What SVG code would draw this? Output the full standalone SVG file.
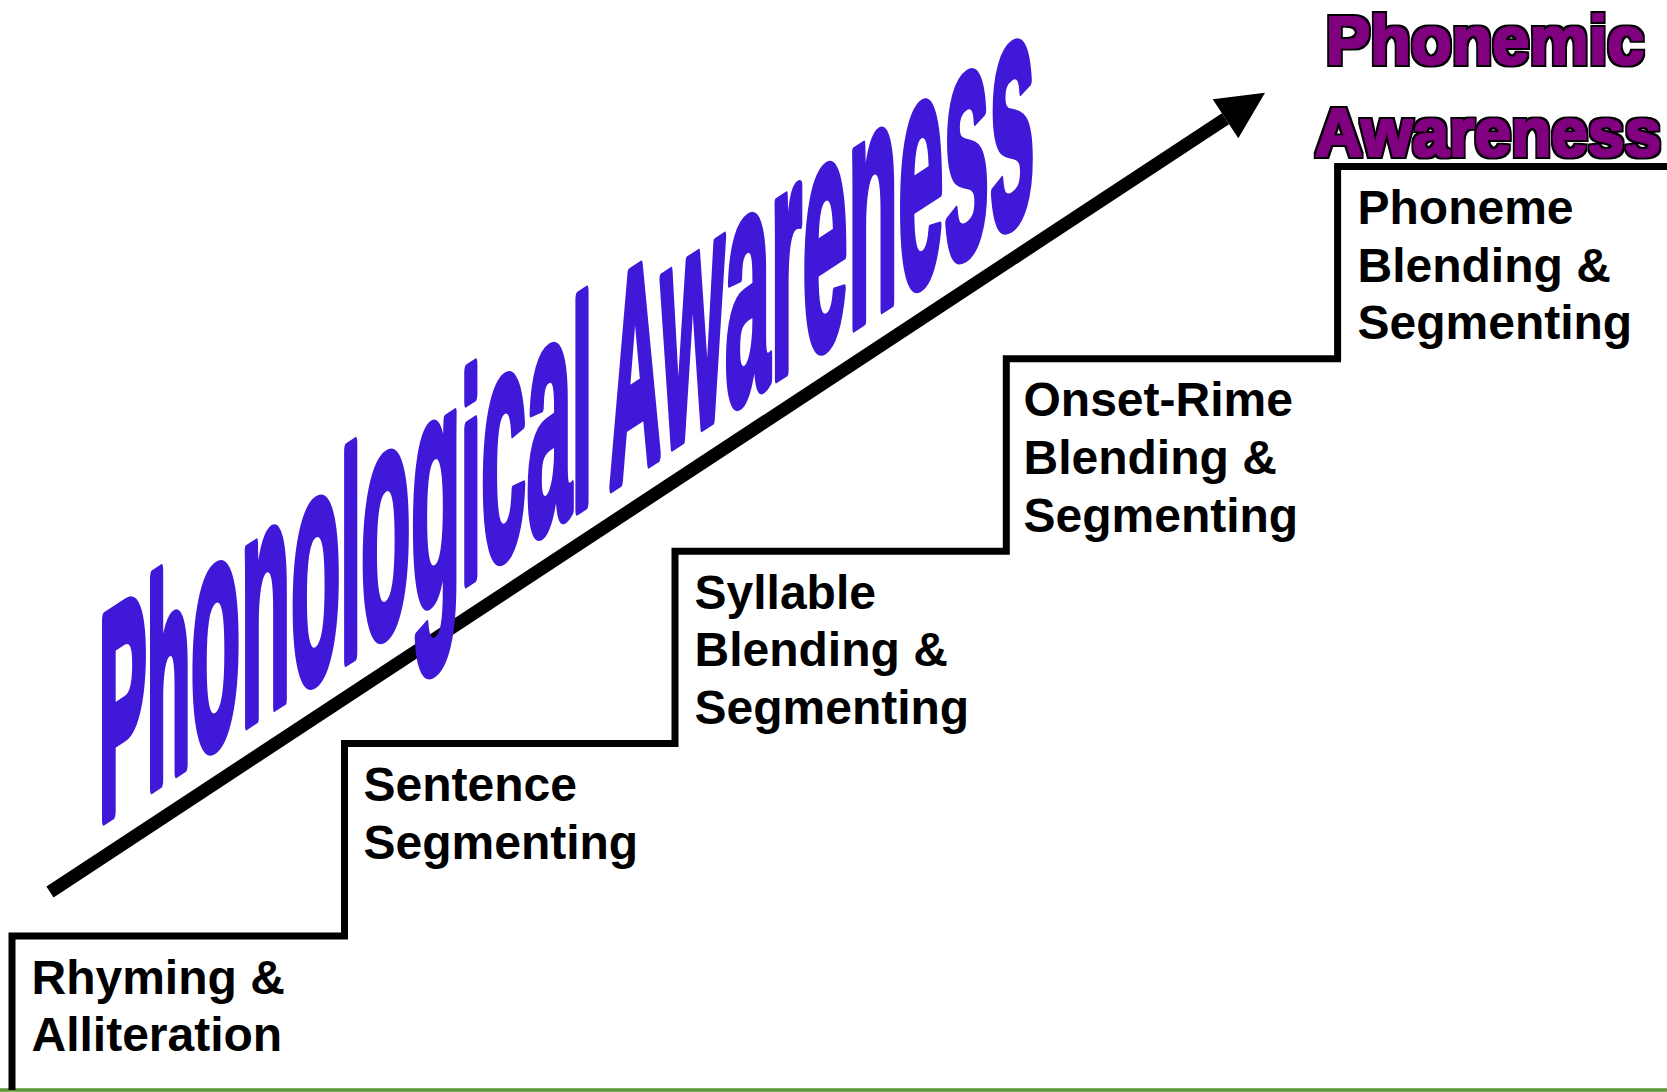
<svg xmlns="http://www.w3.org/2000/svg" width="1667" height="1092" viewBox="0 0 1667 1092">
<style>
.step{font-family:"Liberation Sans",Arial,sans-serif;font-weight:bold;font-size:48px;fill:#000}
.pa{font-family:"Liberation Sans",Arial,sans-serif;font-weight:bold;font-size:68px;fill:#800080;text-anchor:middle}
.wordart{font-family:"Liberation Sans",Arial,sans-serif;font-weight:bold;font-size:290px;fill:#4018d8;stroke:#4018d8;stroke-width:10;stroke-linejoin:round;vector-effect:non-scaling-stroke}
.xl{font-size:332px}
</style>
<defs>
<marker id="ah" markerUnits="userSpaceOnUse" markerWidth="50" markerHeight="50" viewBox="0 -25 50 50" refX="0" refY="0" orient="auto" overflow="visible">
<path d="M0,-23.3 L47.3,0 L0,23.3 z" fill="#000"/>
</marker>
<filter id="outlined" x="-10%" y="-30%" width="120%" height="160%">
<feMorphology in="SourceAlpha" operator="dilate" radius="2.6" result="outer"/>
<feFlood flood-color="#000000" result="blk"/>
<feComposite in="blk" in2="outer" operator="in" result="blackring"/>
<feMorphology in="SourceAlpha" operator="dilate" radius="1.2" result="inner"/>
<feFlood flood-color="#800080" result="pur"/>
<feComposite in="pur" in2="inner" operator="in" result="purplefill"/>
<feMerge>
<feMergeNode in="blackring"/>
<feMergeNode in="purplefill"/>
</feMerge>
</filter>
</defs>
<rect width="1667" height="1092" fill="#fff"/>
<g id="ground">
<line x1="0" y1="1090" x2="1667" y2="1090" stroke="#5a9634" stroke-width="3.5"/>
</g>
<g id="stairs">
<path d="M12,1090 V936 H344.5 V743.6 H675 V551.2 H1006.3 V358.8 H1337.6 V166.4 H1667" fill="none" stroke="#000" stroke-width="7" stroke-linejoin="miter"/>
</g>
<g id="connectors">
<line x1="50" y1="892" x2="1225.5" y2="118.8" stroke="#000" stroke-width="13" marker-end="url(#ah)"/>
</g>
<g id="title-phonological">
<text class="wordart" transform="translate(98.9,822) skewY(-33.22) scale(0.2471,1)" x="0" y="0">Ph<tspan class="xl">ono</tspan>l<tspan class="xl">og</tspan>i<tspan class="xl">ca</tspan>l A<tspan class="xl">wareness</tspan></text>
</g>
<g id="title-phonemic" filter="url(#outlined)">
<text class="pa" transform="translate(1485,64.1) scale(0.98,1)" x="0" y="0">Phonemic</text>
<text class="pa" transform="translate(1488,155.7) scale(0.967,1)" x="0" y="0">Awareness</text>
</g>
<g id="step-1">
<text class="step" x="31.5" y="993.5">Rhyming &amp;</text>
<text class="step" x="31.5" y="1051.2">Alliteration</text>
</g>
<g id="step-2">
<text class="step" x="363.5" y="801">Sentence</text>
<text class="step" x="363.5" y="858.7">Segmenting</text>
</g>
<g id="step-3">
<text class="step" x="694.5" y="608.7">Syllable</text>
<text class="step" x="694.5" y="666.4">Blending &amp;</text>
<text class="step" x="694.5" y="724.1">Segmenting</text>
</g>
<g id="step-4">
<text class="step" x="1023.5" y="416.3">Onset-Rime</text>
<text class="step" x="1023.5" y="474">Blending &amp;</text>
<text class="step" x="1023.5" y="531.7">Segmenting</text>
</g>
<g id="step-5">
<text class="step" x="1357.5" y="224">Phoneme</text>
<text class="step" x="1357.5" y="281.7">Blending &amp;</text>
<text class="step" x="1357.5" y="339.4">Segmenting</text>
</g>
</svg>
